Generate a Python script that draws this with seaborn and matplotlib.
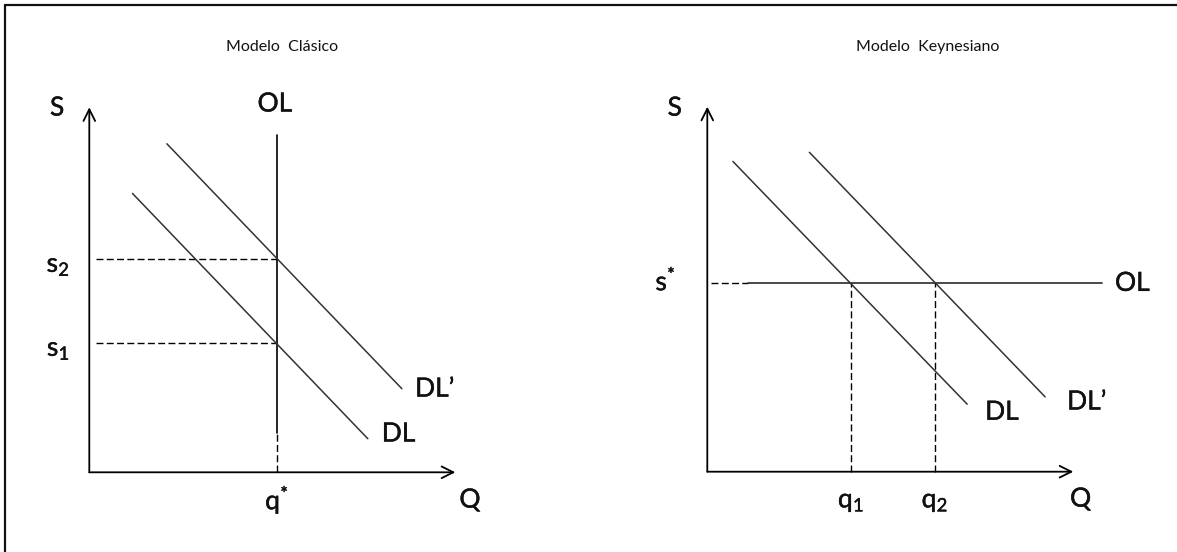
import matplotlib
matplotlib.use("Agg")
import matplotlib.pyplot as plt
import matplotlib.patheffects as pe
from matplotlib.lines import Line2D
import seaborn as sns

# ---- Modelo Clásico (vertical labour supply) ----
clasico_q_star = 5.13                 # q*
clasico_s_levels = [3.55, 5.85]       # s1, s2
clasico_s_labels = [r"$\mathrm{s}_{1}$", r"$\mathrm{s}_{2}$"]
clasico_ol_s = [1.07, 9.25]           # solid part of OL
clasico_dl_q = [1.18, 7.61]
clasico_dl_s = [7.64, 0.92]
clasico_dlp_q = [2.12, 8.54]
clasico_dlp_s = [9.00, 2.29]

# ---- Modelo Keynesiano (horizontal labour supply) ----
keynes_s_star = 5.16                  # s*
keynes_q_levels = [3.93, 6.22]        # q1, q2
keynes_q_labels = [r"$\mathrm{q}_{1}$", r"$\mathrm{q}_{2}$"]
keynes_ol_q = [1.10, 10.78]           # solid part of OL
keynes_dl_q = [0.70, 7.10]
keynes_dl_s = [8.50, 1.85]
keynes_dlp_q = [2.79, 9.23]
keynes_dlp_s = [8.75, 2.05]

titles = ["Modelo  Clásico", "Modelo  Keynesiano"]

sns.set_theme(style="white")
plt.rcParams["font.family"] = ["Lato", "DejaVu Sans"]
plt.rcParams["mathtext.fontset"] = "custom"
plt.rcParams["mathtext.rm"] = "Lato"
plt.rcParams["mathtext.it"] = "Lato:italic"
plt.rcParams["mathtext.bf"] = "Lato:bold"
plt.rcParams["text.color"] = "#111111"

W, H = 1177, 552
DPI = 100
PX, PY = 36.6, 36.5     # pixels per unit on Q and S

fig = plt.figure(figsize=(W / DPI, H / DPI), dpi=DPI)
fig.patch.set_facecolor("white")

LINE = "#333333"
DASH = (0, (5, 2.4))
LBL = 19
# slightly heavier strokes for the large labels
BOLDEN = [pe.Stroke(linewidth=0.3, foreground="#111111"), pe.Normal()]


def make_panel(x0, w, ox, oy):
    ax = fig.add_axes([x0 / W, 0, w / W, 1])
    ax.set_xlim((x0 - ox) / PX, (x0 + w - ox) / PX)
    ax.set_ylim((oy - H) / PY, oy / PY)
    ax.axis("off")
    return ax


def seg(ax, x, y, color=LINE, lw=1.1, ls="-"):
    sns.lineplot(x=x, y=y, ax=ax, color=color, linewidth=lw, linestyle=ls,
                 estimator=None, sort=False, legend=False)


def label(ax, x, y, s, size=LBL, **kw):
    effects = BOLDEN if size > 14 else None
    ax.text(x, y, s, fontsize=size, path_effects=effects, **kw)


def axes_arrows(ax, qmax, smax):
    style = "->,head_length=0.7,head_width=0.35"
    kw = dict(arrowstyle=style, color="black", lw=1.3, shrinkA=0, shrinkB=0,
              mutation_scale=12)
    ax.annotate("", xy=(0, smax), xytext=(0, 0), arrowprops=kw)
    ax.annotate("", xy=(qmax, 0), xytext=(0, 0), arrowprops=kw)


# ---------------- left panel ----------------
axL = make_panel(0, 588, 89.3, 472.3)
lims = (axL.get_xlim(), axL.get_ylim())
axes_arrows(axL, 10.0, 10.0)

for s in clasico_s_levels:
    seg(axL, [0.19, clasico_q_star], [s, s], color="black", lw=1.0, ls=DASH)
seg(axL, [clasico_q_star, clasico_q_star], [0, clasico_ol_s[0]],
    color="black", lw=1.0, ls=DASH)
seg(axL, [clasico_q_star, clasico_q_star], clasico_ol_s, color="black", lw=1.2)
seg(axL, clasico_dl_q, clasico_dl_s)
seg(axL, clasico_dlp_q, clasico_dlp_s)

label(axL, 5.27, 11.65, titles[0], size=11.5, ha="center", va="center")
label(axL, -0.88, 9.98, "S", ha="center", va="center")
label(axL, 5.07, 10.09, "OL", ha="center", va="center")
for s, lab in zip(clasico_s_levels, clasico_s_labels):
    label(axL, -0.53, s - 0.18, lab, ha="right", va="center")
label(axL, clasico_q_star, -0.76, r"$\mathrm{q}^{*}$", ha="center", va="center")
label(axL, 10.4, -0.76, "Q", ha="center", va="center")
label(axL, 8.90, 2.28, "DL\u2019", ha="left", va="center")
label(axL, 7.99, 1.05, "DL", ha="left", va="center")
axL.set_xlim(*lims[0])
axL.set_ylim(*lims[1])

# ---------------- right panel ----------------
axR = make_panel(588, 589, 707.3, 471.7)
lims = (axR.get_xlim(), axR.get_ylim())
axes_arrows(axR, 10.0, 10.0)

seg(axR, [0.10, keynes_ol_q[0]], [keynes_s_star, keynes_s_star],
    color="black", lw=1.0, ls=DASH)
seg(axR, keynes_ol_q, [keynes_s_star, keynes_s_star], color="#3a3a3a", lw=1.3)
for q in keynes_q_levels:
    seg(axR, [q, q], [0, keynes_s_star], color="black", lw=1.0, ls=DASH)
seg(axR, keynes_dl_q, keynes_dl_s)
seg(axR, keynes_dlp_q, keynes_dlp_s)

label(axR, 6.03, 11.64, titles[1], size=11.5, ha="center", va="center")
label(axR, -0.89, 9.96, "S", ha="center", va="center")
label(axR, -0.86, keynes_s_star + 0.05, r"$\mathrm{s}^{*}$", ha="right", va="center")
label(axR, 11.14, keynes_s_star, "OL", ha="left", va="center")
label(axR, 9.83, 1.91, "DL\u2019", ha="left", va="center")
label(axR, 7.59, 1.63, "DL", ha="left", va="center")
for q, lab in zip(keynes_q_levels, keynes_q_labels):
    label(axR, q, -0.83, lab, ha="center", va="center")
label(axR, 10.2, -0.75, "Q", ha="center", va="center")
axR.set_xlim(*lims[0])
axR.set_ylim(*lims[1])

# outer frame (left and top edges)
fx, fy = 5 / W, 1 - 4.5 / H
fig.add_artist(Line2D([fx, fx], [0, fy], transform=fig.transFigure,
                      color="#111111", lw=1.6))
fig.add_artist(Line2D([fx, 1], [fy, fy], transform=fig.transFigure,
                      color="#111111", lw=1.6))

fig.savefig("out.png", dpi=DPI, facecolor="white")
